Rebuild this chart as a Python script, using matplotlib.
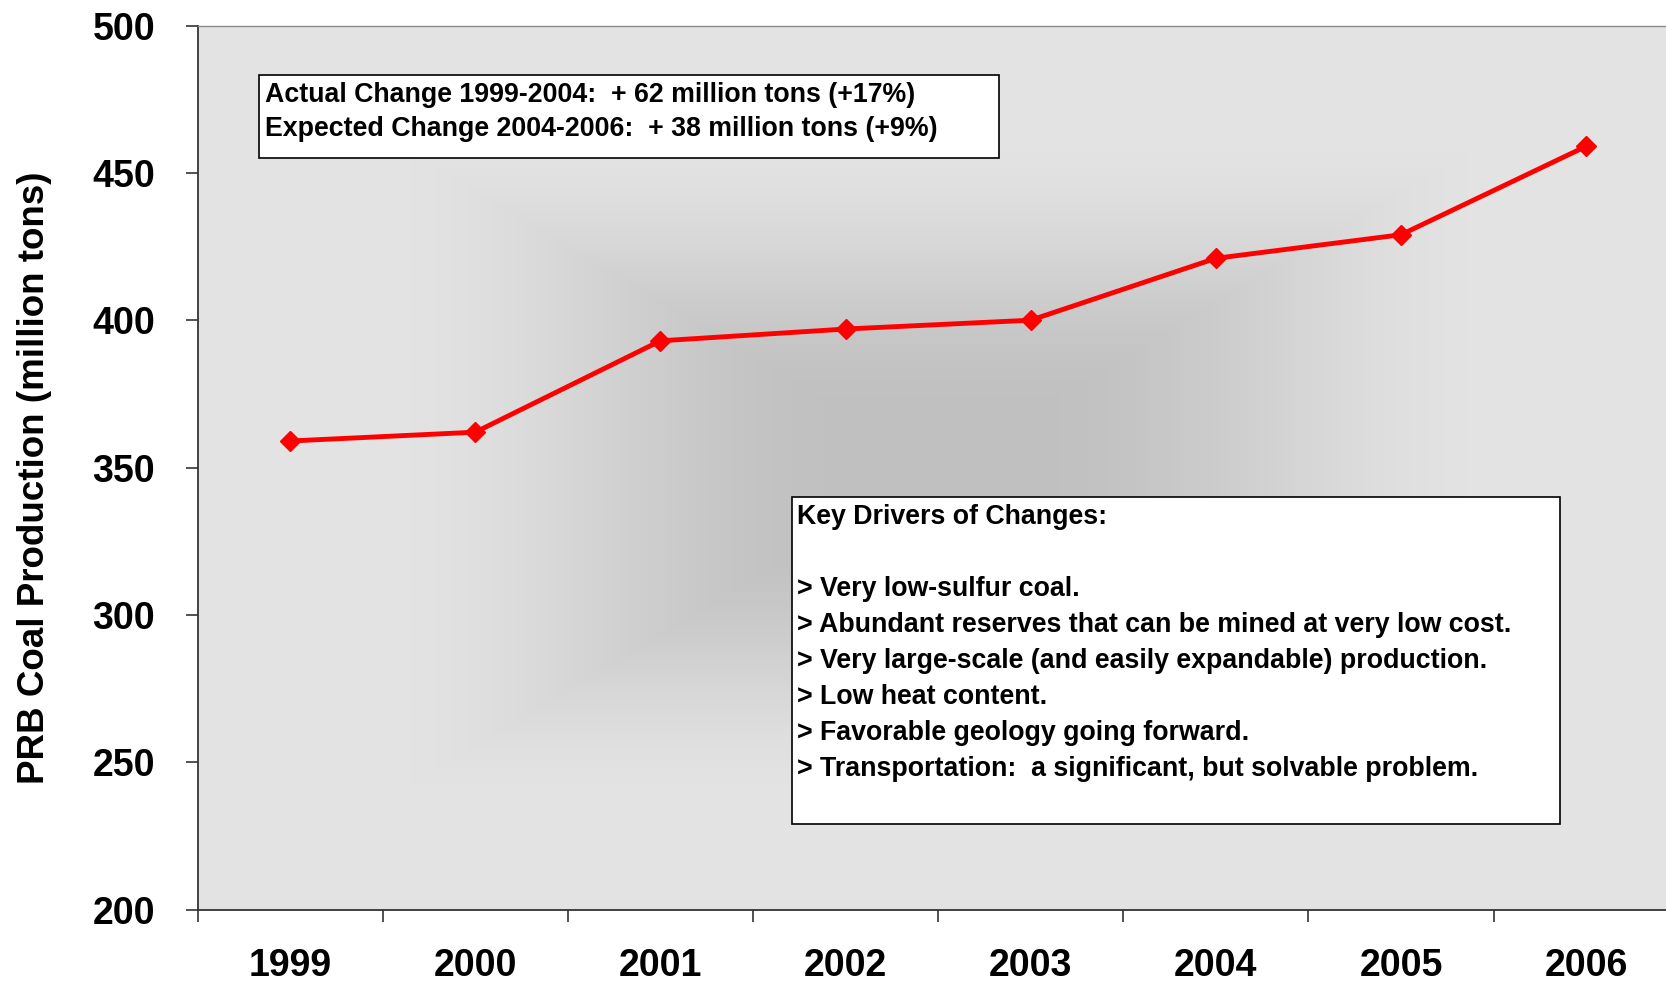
import numpy as np
import matplotlib.pyplot as plt
from matplotlib.patches import Rectangle

plt.rcParams['font.family'] = ['Liberation Sans', 'DejaVu Sans']
plt.rcParams['font.weight'] = 'bold'

# PRB coal production, million tons
years = ['1999', '2000', '2001', '2002', '2003', '2004', '2005', '2006']
production = [359, 362, 393, 397, 400, 421, 429, 459]

change_lines = [
    'Actual Change 1999-2004:  + 62 million tons (+17%)',
    'Expected Change 2004-2006:  + 38 million tons (+9%)',
]
driver_lines = [
    'Key Drivers of Changes:',
    '',
    '> Very low-sulfur coal.',
    '> Abundant reserves that can be mined at very low cost.',
    '> Very large-scale (and easily expandable) production.',
    '> Low heat content.',
    '> Favorable geology going forward.',
    '> Transportation:  a significant, but solvable problem.',
]

fig = plt.figure(figsize=(16.66, 9.82), dpi=100)
ax = fig.add_axes([0.1186, 0.0738, 0.889, 0.9002])

x = np.arange(len(years))
ax.set_xlim(-0.5, len(years) - 0.5)
ax.set_ylim(200, 500)

# grey "from centre" fill of the plot area
n = 400
u, v = np.meshgrid(np.linspace(0, 1, n), np.linspace(0, 1, n))
t = np.maximum(np.abs(u - 0.5), np.abs(v - 0.5)) / 0.5
s = np.clip((t - 0.12) / 0.65, 0, 1)
s = s * s * (3 - 2 * s)
shade = 0.755 + (0.893 - 0.755) * s
img = np.dstack([shade, shade, shade])
ax.imshow(img, extent=[0, 1, 0, 1], transform=ax.transAxes,
          aspect='auto', zorder=0, interpolation='bilinear')

ax.plot(x, production, color='#ff0000', lw=3.5, marker='D',
        markersize=10.5, markeredgewidth=1, zorder=3)

ax.set_yticks(np.arange(200, 501, 50))
ax.set_xticks(x)
ax.set_xticklabels(years)
ax.set_xticks(np.arange(-0.5, len(years)), minor=True)
ax.tick_params(axis='x', which='major', length=0, pad=28, labelsize=27)
ax.tick_params(axis='x', which='minor', length=8.5, width=1.2,
               direction='out', color='#333333')
ax.tick_params(axis='y', length=8.5, width=1.2, direction='out',
               pad=22, labelsize=27, color='#333333')
for lab in ax.get_xticklabels() + ax.get_yticklabels():
    lab.set_fontweight('bold')

ax.spines['left'].set_color('#333333')
ax.spines['left'].set_linewidth(1.3)
ax.spines['bottom'].set_color('#333333')
ax.spines['bottom'].set_linewidth(1.3)
ax.spines['top'].set_color('#8a8a8a')
ax.spines['top'].set_linewidth(1.0)
ax.spines['right'].set_visible(False)

fig.text(0.0205, 0.513, 'PRB Coal Production (million tons)', rotation=90,
         ha='center', va='center', fontsize=26.5, fontweight='bold')

# summary box
fig.add_artist(Rectangle((0.1555, 0.8391), 0.4441, 0.0845,
                         transform=fig.transFigure, facecolor='white',
                         edgecolor='black', lw=1.2, zorder=4))
for i, line in enumerate(change_lines):
    fig.text(0.1588, 1 - (95.5 + 34 * i) / 982, line, ha='left', va='center',
             fontsize=19.3, fontweight='bold', zorder=5)

# drivers box
fig.add_artist(Rectangle((0.4751, 0.1614), 0.4613, 0.3325,
                         transform=fig.transFigure, facecolor='white',
                         edgecolor='black', lw=1.2, zorder=4))
for i, line in enumerate(driver_lines):
    if line:
        fig.text(0.4784, 1 - (517.3 + 36.0 * i) / 982, line, ha='left',
                 va='center', fontsize=19.3, fontweight='bold', zorder=5)

fig.savefig('out.png', dpi=100)
